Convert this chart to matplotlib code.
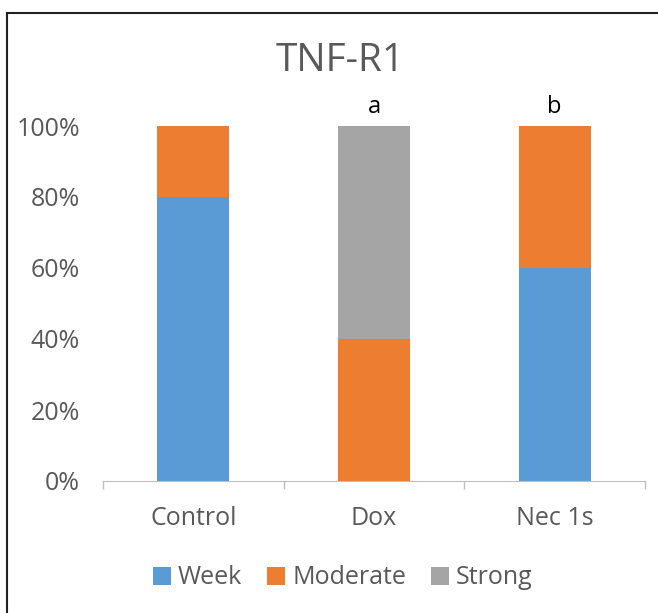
import numpy as np
import matplotlib
matplotlib.use("Agg")
import matplotlib.pyplot as plt
from matplotlib.patches import Rectangle

plt.rcParams['font.family'] = ['Open Sans', 'DejaVu Sans']

groups = ['Control', 'Dox', 'Nec 1s']
series = ['Week', 'Moderate', 'Strong']
week = [0.80, 0.0, 0.60]
moderate = [0.20, 0.40, 0.40]
strong = [0.0, 0.60, 0.0]
letters = ['', 'a', 'b']
colors = ['#5B9BD5', '#ED7D31', '#A5A5A5']
TXT = '#595959'

fig = plt.figure(figsize=(6.58, 6.13), dpi=100)
ax = fig.add_axes([103/658, 1-481/613, (645-103)/658, (481-126)/613])

x = np.arange(len(groups))
bottom = np.zeros(len(groups))
for name, vals, c in zip(series, [week, moderate, strong], colors):
    ax.bar(x, vals, width=0.4, bottom=bottom, color=c, label=name, zorder=2)
    bottom += np.array(vals)

# significance letters above the bars
for xi, top, lab in zip(x, bottom, letters):
    if lab:
        ax.annotate(lab, (xi, top), xytext=(0, 14), textcoords='offset points',
                    ha='center', va='center', fontsize=17, color='black')

ax.set_xlim(-0.5, 2.5)
ax.set_ylim(0, 1)
ax.set_yticks(np.arange(0, 1.01, 0.2))
ax.set_yticklabels(['%d%%' % round(v*100) for v in np.arange(0, 1.01, 0.2)])
ax.set_xticks(x)
ax.set_xticklabels(groups)
ax.set_xticks([-0.5, 0.5, 1.5, 2.5], minor=True)
ax.tick_params(axis='x', which='major', length=0, pad=18, labelsize=18, labelcolor=TXT)
ax.tick_params(axis='x', which='minor', length=6, color='#BFBFBF', width=1)
ax.tick_params(axis='y', length=0, pad=16.5, labelsize=18, labelcolor=TXT)
for s in ['top', 'right', 'left']:
    ax.spines[s].set_visible(False)
ax.spines['bottom'].set_color('#BFBFBF')
ax.spines['bottom'].set_zorder(3)

fig.text(340/658, 1-61/613, 'TNF-R1', ha='center', va='center', fontsize=28, color=TXT)

leg = fig.legend(loc='center', bbox_to_anchor=(343/658, 1-578/613), ncol=3, frameon=False,
                 fontsize=18, handlelength=0.7, handleheight=0.7, handletextpad=0.3,
                 columnspacing=1.0)
for t in leg.get_texts():
    t.set_color(TXT)

# outer frame, cut off at right and bottom edges
fig.patches.append(Rectangle((7/658, -0.1), 1.2, 1-13/613+0.1, transform=fig.transFigure,
                             fill=False, edgecolor='#222222', linewidth=1.5))

fig.savefig('out.png', dpi=100)
